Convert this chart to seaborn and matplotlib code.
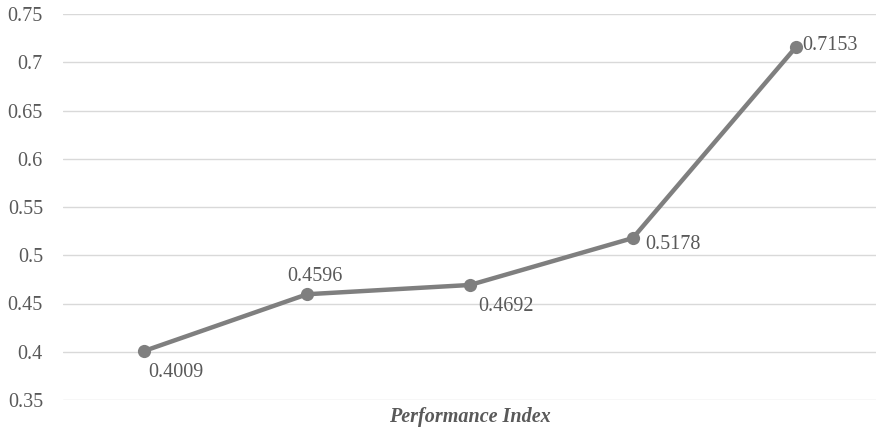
import matplotlib
matplotlib.use("Agg")
import matplotlib.pyplot as plt
import seaborn as sns
import pandas as pd

categories = ["1", "2", "3", "4", "5"]
values = [0.4009, 0.4596, 0.4692, 0.5178, 0.7153]
y_ticks = [0.35, 0.4, 0.45, 0.5, 0.55, 0.6, 0.65, 0.7, 0.75]
y_tick_labels = ["0.35", "0.4", "0.45", "0.5", "0.55", "0.6", "0.65", "0.7", "0.75"]
title = "Performance Index"
# label offsets in pixels (dx, dy) and alignment
label_offsets = [(4, -22, "left"), (8, 18, "center"), (8, -22, "left"), (12, -6, "left"), (7, 2, "left")]

sns.set_theme(style="white")
plt.rcParams["font.family"] = ["Liberation Serif", "DejaVu Serif"]

df = pd.DataFrame({"cat": categories, "val": values})

fig = plt.figure(figsize=(8.76, 4.32), dpi=100)
ax = fig.add_axes([63 / 876, 32 / 432, 814 / 876, 386 / 432])

sns.lineplot(data=df, x="cat", y="val", ax=ax, color="#7f7f7f", linewidth=3.2,
             marker="o", markersize=9.5, markeredgewidth=0, sort=False)

ax.set_xlim(-0.5, 4.5)
ax.set_ylim(0.35, 0.75)
ax.set_yticks(y_ticks)
ax.set_yticklabels(y_tick_labels)
ax.yaxis.grid(True, color="#d9d9d9", linewidth=1)
ax.set_axisbelow(True)
ax.set_xticks([])
ax.set_xlabel("")
ax.set_ylabel("")
for s in ax.spines.values():
    s.set_visible(False)
ax.tick_params(axis="y", length=0, pad=14.4, labelsize=14.5, labelcolor="#595959")

for i, (c, v) in enumerate(zip(categories, values)):
    dx, dy, ha = label_offsets[i]
    ax.annotate(f"{v:.4f}", xy=(i, v), xytext=(dx * 0.72, dy * 0.72),
                textcoords="offset points", ha=ha, va="center",
                fontsize=14.5, color="#595959")

fig.text(470 / 876, 1 - 417 / 432, title, ha="center", va="center",
         fontsize=14.5, fontweight="bold", fontstyle="italic", color="#595959")

fig.savefig("out.png", dpi=100)
